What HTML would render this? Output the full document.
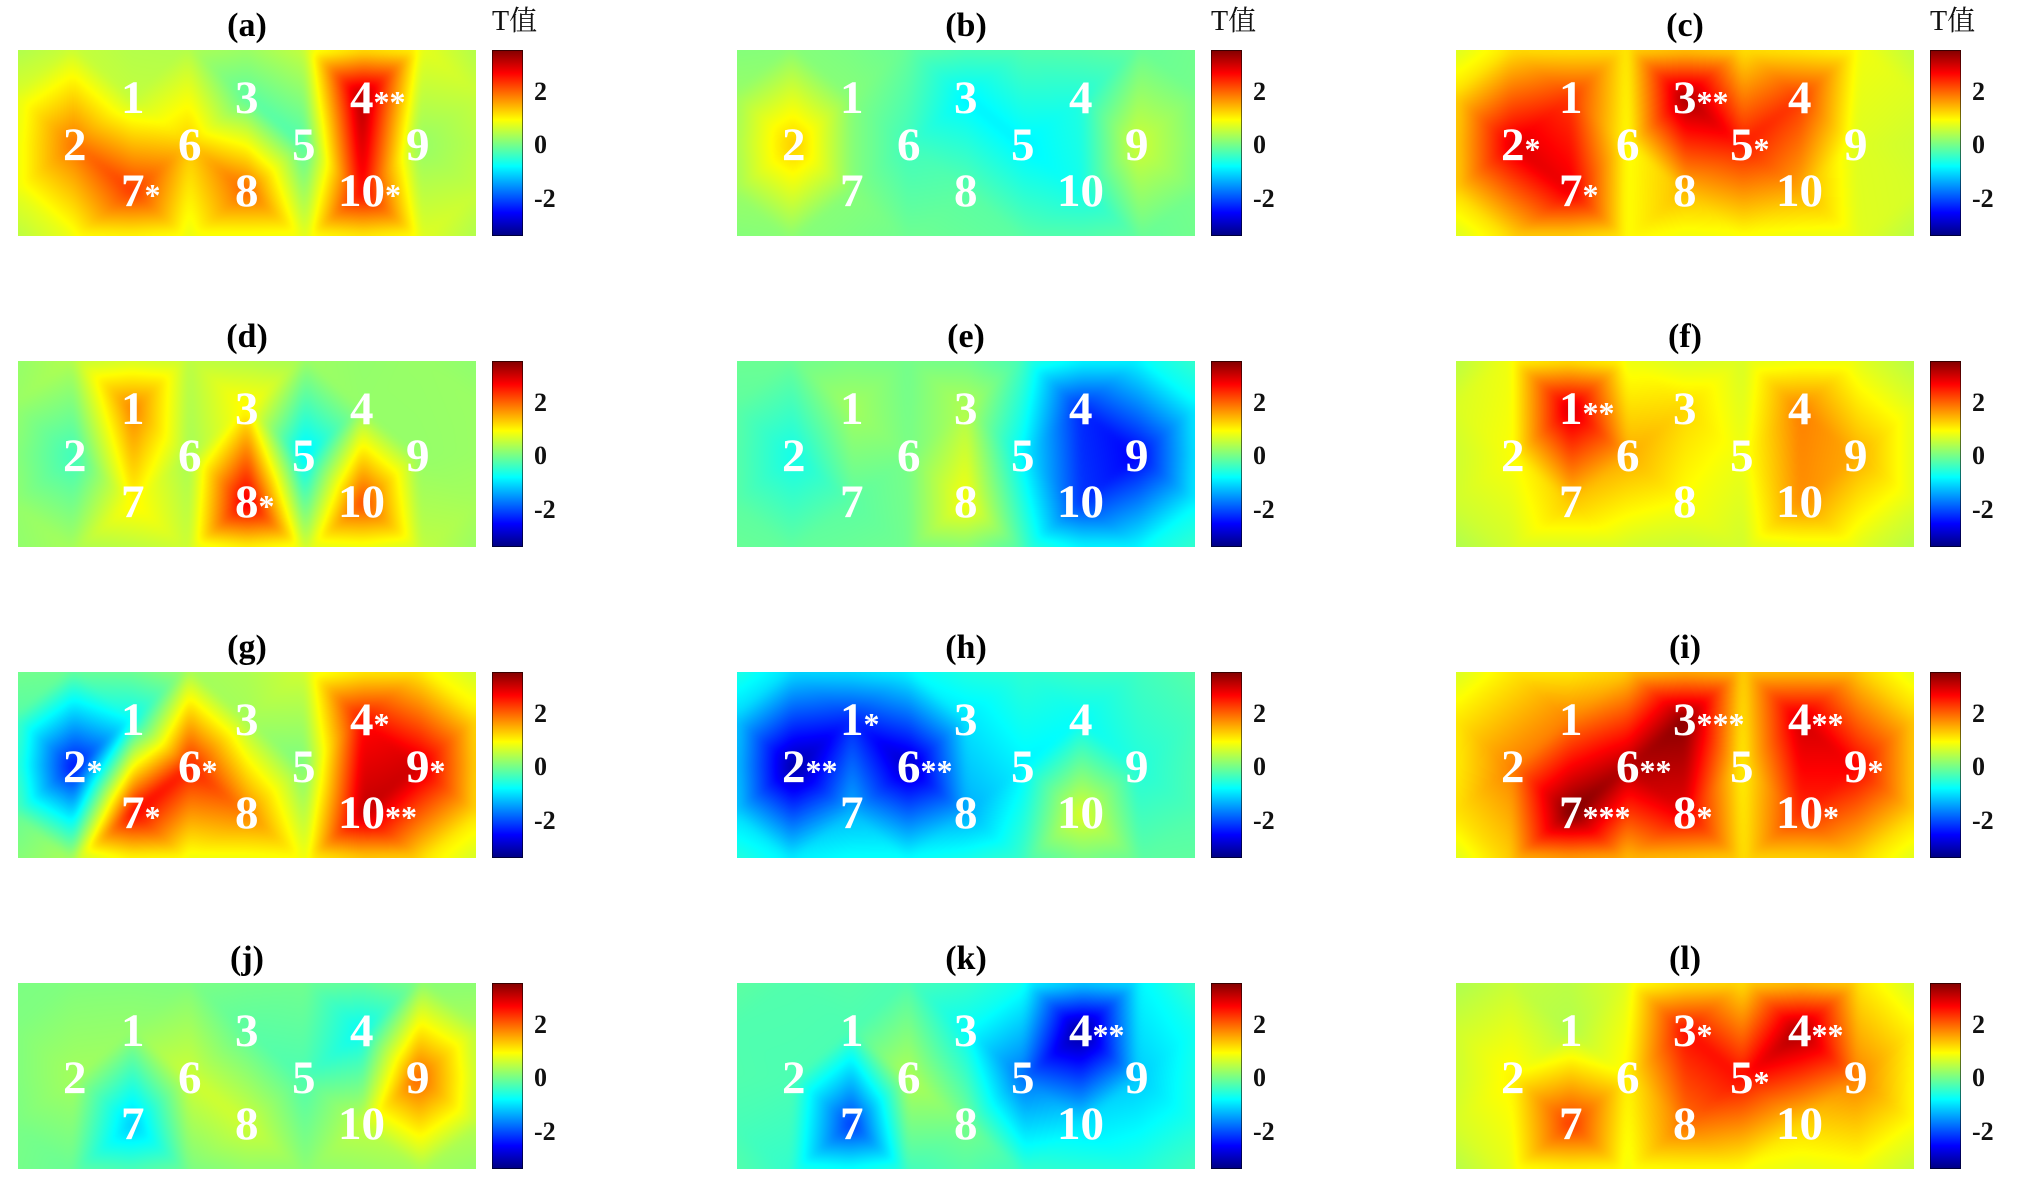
<!DOCTYPE html>
<html><head><meta charset="utf-8">
<style>
body{margin:0;background:#fff;width:2022px;height:1201px;overflow:hidden;position:relative;font-family:"Liberation Serif","Noto Serif CJK SC",serif;}
.pn{position:absolute;width:458px;height:186px;}
.pn canvas{position:absolute;left:0;top:0;width:458px;height:186px;}
.n{position:absolute;font-size:47px;line-height:47px;font-weight:bold;color:#fff;white-space:nowrap;}
.n i{font-style:normal;font-size:32px;line-height:0;}
.p1{left:103px;top:25px}.p3{left:217px;top:25px}.p4{left:332px;top:25px}
.p2{left:45px;top:72px}.p6{left:160px;top:72px}.p5{left:274px;top:72px}.p9{left:388px;top:72px}
.p7{left:103px;top:118px}.p8{left:217px;top:118px}.p10{left:320px;top:118px}
.tt{position:absolute;left:0;width:458px;top:-41.5px;text-align:center;font-size:34px;line-height:34px;font-weight:bold;color:#000;}
.cb{position:absolute;left:474px;top:0;width:31px;height:186px;background:linear-gradient(to bottom,#800000 0%,#ff0000 12.5%,#ffff00 37.5%,#00ffff 62.5%,#0000ff 87.5%,#000080 100%);box-shadow:inset 0 0 0 1px rgba(0,0,0,.55);}
.tk{position:absolute;left:516px;font-size:26px;line-height:26px;font-weight:bold;color:#111;white-space:nowrap;}
.t2{top:29px}.t0{top:82px}.tm{top:136px}
.tv{position:absolute;left:474px;top:-42px;font-size:28px;line-height:28px;white-space:nowrap;color:#111;}
</style></head><body>

<!-- Row 1 -->
<div class="pn" style="left:18px;top:50px"><canvas id="cv-a" width="458" height="186"></canvas>
<div class="tt">(a)</div><div class="tv">T值</div><div class="cb"></div>
<div class="tk t2">2</div><div class="tk t0">0</div><div class="tk tm">-2</div>
<div class="n p1">1</div><div class="n p3">3</div><div class="n p4">4<i>**</i></div>
<div class="n p2">2</div><div class="n p6">6</div><div class="n p5">5</div><div class="n p9">9</div>
<div class="n p7">7<i>*</i></div><div class="n p8">8</div><div class="n p10">10<i>*</i></div>
</div>

<div class="pn" style="left:737px;top:50px"><canvas id="cv-b" width="458" height="186"></canvas>
<div class="tt">(b)</div><div class="tv">T值</div><div class="cb"></div>
<div class="tk t2">2</div><div class="tk t0">0</div><div class="tk tm">-2</div>
<div class="n p1">1</div><div class="n p3">3</div><div class="n p4">4</div>
<div class="n p2">2</div><div class="n p6">6</div><div class="n p5">5</div><div class="n p9">9</div>
<div class="n p7">7</div><div class="n p8">8</div><div class="n p10">10</div>
</div>

<div class="pn" style="left:1456px;top:50px"><canvas id="cv-c" width="458" height="186"></canvas>
<div class="tt">(c)</div><div class="tv">T值</div><div class="cb"></div>
<div class="tk t2">2</div><div class="tk t0">0</div><div class="tk tm">-2</div>
<div class="n p1">1</div><div class="n p3">3<i>**</i></div><div class="n p4">4</div>
<div class="n p2">2<i>*</i></div><div class="n p6">6</div><div class="n p5">5<i>*</i></div><div class="n p9">9</div>
<div class="n p7">7<i>*</i></div><div class="n p8">8</div><div class="n p10">10</div>
</div>

<!-- Row 2 -->
<div class="pn" style="left:18px;top:361px"><canvas id="cv-d" width="458" height="186"></canvas>
<div class="tt">(d)</div><div class="cb"></div>
<div class="tk t2">2</div><div class="tk t0">0</div><div class="tk tm">-2</div>
<div class="n p1">1</div><div class="n p3">3</div><div class="n p4">4</div>
<div class="n p2">2</div><div class="n p6">6</div><div class="n p5">5</div><div class="n p9">9</div>
<div class="n p7">7</div><div class="n p8">8<i>*</i></div><div class="n p10">10</div>
</div>

<div class="pn" style="left:737px;top:361px"><canvas id="cv-e" width="458" height="186"></canvas>
<div class="tt">(e)</div><div class="cb"></div>
<div class="tk t2">2</div><div class="tk t0">0</div><div class="tk tm">-2</div>
<div class="n p1">1</div><div class="n p3">3</div><div class="n p4">4</div>
<div class="n p2">2</div><div class="n p6">6</div><div class="n p5">5</div><div class="n p9">9</div>
<div class="n p7">7</div><div class="n p8">8</div><div class="n p10">10</div>
</div>

<div class="pn" style="left:1456px;top:361px"><canvas id="cv-f" width="458" height="186"></canvas>
<div class="tt">(f)</div><div class="cb"></div>
<div class="tk t2">2</div><div class="tk t0">0</div><div class="tk tm">-2</div>
<div class="n p1">1<i>**</i></div><div class="n p3">3</div><div class="n p4">4</div>
<div class="n p2">2</div><div class="n p6">6</div><div class="n p5">5</div><div class="n p9">9</div>
<div class="n p7">7</div><div class="n p8">8</div><div class="n p10">10</div>
</div>

<!-- Row 3 -->
<div class="pn" style="left:18px;top:672px"><canvas id="cv-g" width="458" height="186"></canvas>
<div class="tt">(g)</div><div class="cb"></div>
<div class="tk t2">2</div><div class="tk t0">0</div><div class="tk tm">-2</div>
<div class="n p1">1</div><div class="n p3">3</div><div class="n p4">4<i>*</i></div>
<div class="n p2">2<i>*</i></div><div class="n p6">6<i>*</i></div><div class="n p5">5</div><div class="n p9">9<i>*</i></div>
<div class="n p7">7<i>*</i></div><div class="n p8">8</div><div class="n p10">10<i>**</i></div>
</div>

<div class="pn" style="left:737px;top:672px"><canvas id="cv-h" width="458" height="186"></canvas>
<div class="tt">(h)</div><div class="cb"></div>
<div class="tk t2">2</div><div class="tk t0">0</div><div class="tk tm">-2</div>
<div class="n p1">1<i>*</i></div><div class="n p3">3</div><div class="n p4">4</div>
<div class="n p2">2<i>**</i></div><div class="n p6">6<i>**</i></div><div class="n p5">5</div><div class="n p9">9</div>
<div class="n p7">7</div><div class="n p8">8</div><div class="n p10">10</div>
</div>

<div class="pn" style="left:1456px;top:672px"><canvas id="cv-i" width="458" height="186"></canvas>
<div class="tt">(i)</div><div class="cb"></div>
<div class="tk t2">2</div><div class="tk t0">0</div><div class="tk tm">-2</div>
<div class="n p1">1</div><div class="n p3">3<i>***</i></div><div class="n p4">4<i>**</i></div>
<div class="n p2">2</div><div class="n p6">6<i>**</i></div><div class="n p5">5</div><div class="n p9">9<i>*</i></div>
<div class="n p7">7<i>***</i></div><div class="n p8">8<i>*</i></div><div class="n p10">10<i>*</i></div>
</div>

<!-- Row 4 -->
<div class="pn" style="left:18px;top:983px"><canvas id="cv-j" width="458" height="186"></canvas>
<div class="tt">(j)</div><div class="cb"></div>
<div class="tk t2">2</div><div class="tk t0">0</div><div class="tk tm">-2</div>
<div class="n p1">1</div><div class="n p3">3</div><div class="n p4">4</div>
<div class="n p2">2</div><div class="n p6">6</div><div class="n p5">5</div><div class="n p9">9</div>
<div class="n p7">7</div><div class="n p8">8</div><div class="n p10">10</div>
</div>

<div class="pn" style="left:737px;top:983px"><canvas id="cv-k" width="458" height="186"></canvas>
<div class="tt">(k)</div><div class="cb"></div>
<div class="tk t2">2</div><div class="tk t0">0</div><div class="tk tm">-2</div>
<div class="n p1">1</div><div class="n p3">3</div><div class="n p4">4<i>**</i></div>
<div class="n p2">2</div><div class="n p6">6</div><div class="n p5">5</div><div class="n p9">9</div>
<div class="n p7">7</div><div class="n p8">8</div><div class="n p10">10</div>
</div>

<div class="pn" style="left:1456px;top:983px"><canvas id="cv-l" width="458" height="186"></canvas>
<div class="tt">(l)</div><div class="cb"></div>
<div class="tk t2">2</div><div class="tk t0">0</div><div class="tk tm">-2</div>
<div class="n p1">1</div><div class="n p3">3<i>*</i></div><div class="n p4">4<i>**</i></div>
<div class="n p2">2</div><div class="n p6">6</div><div class="n p5">5<i>*</i></div><div class="n p9">9</div>
<div class="n p7">7</div><div class="n p8">8</div><div class="n p10">10</div>
</div>

<script>
(function(){
var SX=[115,57,229,344,286,172,115,229,400,344];
var SY=[48,95,48,48,95,95,141.5,141.5,95,141.5];
var V={
a:[0.5,1.9,-0.2,3.3,-0.3,1.3,2.3,2.0,0.2,2.7],
b:[0.1,1.3,-0.9,-0.6,-0.9,-0.4,0.1,-0.2,0.6,-0.7],
c:[2.3,2.9,3.3,2.3,2.5,0.9,2.8,1.4,0.7,1.5],
d:[1.8,-0.4,1.0,0.2,-1.0,0.3,1.0,2.9,0.2,2.2],
e:[0.3,-0.7,0.4,-2.3,-0.9,0.0,-0.2,0.9,-2.6,-2.2],
f:[3.0,0.9,1.2,1.8,0.8,1.5,1.3,0.9,1.5,1.7],
g:[-0.8,-2.5,0.3,2.6,0.0,2.5,2.7,1.8,3.0,3.1],
h:[-2.3,-3.2,-1.0,-0.8,-0.9,-3.0,-1.3,-1.4,-0.6,0.7],
i:[1.8,1.8,3.5,3.0,1.0,3.2,3.6,2.8,2.7,2.4],
j:[0.2,0.3,-0.2,-0.8,-0.3,0.6,-1.2,0.6,2.0,0.5],
k:[-0.3,-0.3,-0.8,-3.3,-1.8,0.4,-2.2,0.0,-1.2,-1.0],
l:[0.4,1.0,2.6,3.3,2.6,1.0,2.3,1.9,1.8,1.2]
};
function cl(x){return x<0?0:(x>1?1:x);}
function jet(v){var t=cl((v+3.45)/7);return [cl(1.5-Math.abs(4*t-3))*255,cl(1.5-Math.abs(4*t-2))*255,cl(1.5-Math.abs(4*t-1))*255];}
function triangulate(P){
 var n=P.length,M=1e6;
 var pts=P.concat([[-M,-M],[3*M,-M],[-M,3*M]]);
 function cc(t){var a=pts[t[0]],b=pts[t[1]],c=pts[t[2]];
  var ax=a[0],ay=a[1],bx=b[0],by=b[1],cx=c[0],cy=c[1];
  var d=2*(ax*(by-cy)+bx*(cy-ay)+cx*(ay-by));
  var a2=ax*ax+ay*ay,b2=bx*bx+by*by,c2=cx*cx+cy*cy;
  var ux=(a2*(by-cy)+b2*(cy-ay)+c2*(ay-by))/d;
  var uy=(a2*(cx-bx)+b2*(ax-cx)+c2*(bx-ax))/d;
  return [ux,uy,(ax-ux)*(ax-ux)+(ay-uy)*(ay-uy)];}
 var T=[[n,n+1,n+2]],C=[cc(T[0])];
 for(var i=0;i<n;i++){
  var p=pts[i],nt=[],nc=[],ed={};
  for(var k=0;k<T.length;k++){var c=C[k];var dx=p[0]-c[0],dy=p[1]-c[1];
   if(dx*dx+dy*dy<c[2]){var t=T[k];for(var e=0;e<3;e++){var u=t[e],v=t[(e+1)%3];var key=u<v?u+','+v:v+','+u;if(ed[key])ed[key].c++;else ed[key]={u:u,v:v,c:1};}}
   else{nt.push(T[k]);nc.push(c);}}
  for(var key in ed){var ee=ed[key];if(ee.c===1){var tt=[ee.u,ee.v,i];nt.push(tt);nc.push(cc(tt));}}
  T=nt;C=nc;}
 return T.filter(function(t){return t[0]<n&&t[1]<n&&t[2]<n;});
}
function blur(F,W,H,r){
 var T=new Float32Array(W*H),x,y,k,s,d=2*r+1;
 for(y=0;y<H;y++){for(x=0;x<W;x++){s=0;for(k=-r;k<=r;k++){var xx=x+k;if(xx<0)xx=0;if(xx>W-1)xx=W-1;s+=F[y*W+xx];}T[y*W+x]=s/d;}}
 for(x=0;x<W;x++){for(y=0;y<H;y++){s=0;for(k=-r;k<=r;k++){var yy=y+k;if(yy<0)yy=0;if(yy>H-1)yy=H-1;s+=T[yy*W+x];}F[y*W+x]=s/d;}}
}
function draw(id,vals){
 var cv=document.getElementById(id);if(!cv||!cv.getContext)return;
 var W=458,H=186,P=[],Z=[],i;
 function idw(x,y){var s=0,w=0;for(var q=0;q<10;q++){var dd=(x-SX[q])*(x-SX[q])+(y-SY[q])*(y-SY[q])+1;var ww=1/dd;s+=ww*vals[q];w+=ww;}return s/w;}
 for(i=0;i<10;i++){P.push([SX[i]+((i*7)%5-2)*0.13,SY[i]+((i*3)%5-2)*0.11]);Z.push(vals[i]);}
 var E=4,bp=[],k;
 for(k=0;k<=8;k++){var bx=-E+k*(W+2*E)/8;bp.push([bx,-E]);bp.push([bx,H+E]);}
 [0.25,0.5,0.75].forEach(function(f){var by=-E+f*(H+2*E);bp.push([-E,by]);bp.push([W+E,by]);});
 bp.forEach(function(p,j){var corner=(p[0]<0||p[0]>W)&&(p[1]<0||p[1]>H);var f=corner?0.25:0.45;
  P.push([p[0]+((j*5)%7-3)*0.05,p[1]+((j*3)%7-3)*0.05]);Z.push(f*idw(Math.min(W,Math.max(0,p[0])),Math.min(H,Math.max(0,p[1]))));});
 var tris=triangulate(P);
 var F=new Float32Array(W*H);for(i=0;i<W*H;i++)F[i]=NaN;
 tris.forEach(function(t){
  var a=P[t[0]],b=P[t[1]],c=P[t[2]];
  var det=(b[1]-c[1])*(a[0]-c[0])+(c[0]-b[0])*(a[1]-c[1]);if(Math.abs(det)<1e-9)return;
  var x0=Math.max(0,Math.floor(Math.min(a[0],b[0],c[0]))),x1=Math.min(W-1,Math.ceil(Math.max(a[0],b[0],c[0])));
  var y0=Math.max(0,Math.floor(Math.min(a[1],b[1],c[1]))),y1=Math.min(H-1,Math.ceil(Math.max(a[1],b[1],c[1])));
  for(var y=y0;y<=y1;y++)for(var x=x0;x<=x1;x++){var px=x+0.5,py=y+0.5;
   var l1=((b[1]-c[1])*(px-c[0])+(c[0]-b[0])*(py-c[1]))/det;
   var l2=((c[1]-a[1])*(px-c[0])+(a[0]-c[0])*(py-c[1]))/det;
   var l3=1-l1-l2;
   if(l1>=-1e-6&&l2>=-1e-6&&l3>=-1e-6)F[y*W+x]=l1*Z[t[0]]+l2*Z[t[1]]+l3*Z[t[2]];}
 });
 for(var y=0;y<H;y++)for(var x=0;x<W;x++){if(isNaN(F[y*W+x]))F[y*W+x]=0.4*idw(x,y);}
 blur(F,W,H,4);blur(F,W,H,4);
 var ctx=cv.getContext('2d');var im=ctx.createImageData(W,H);var D=im.data;
 for(i=0;i<W*H;i++){var col=jet(F[i]);D[4*i]=col[0];D[4*i+1]=col[1];D[4*i+2]=col[2];D[4*i+3]=255;}
 ctx.putImageData(im,0,0);
}
for(var key in V){draw('cv-'+key,V[key]);}
})();
</script>
</body></html>
